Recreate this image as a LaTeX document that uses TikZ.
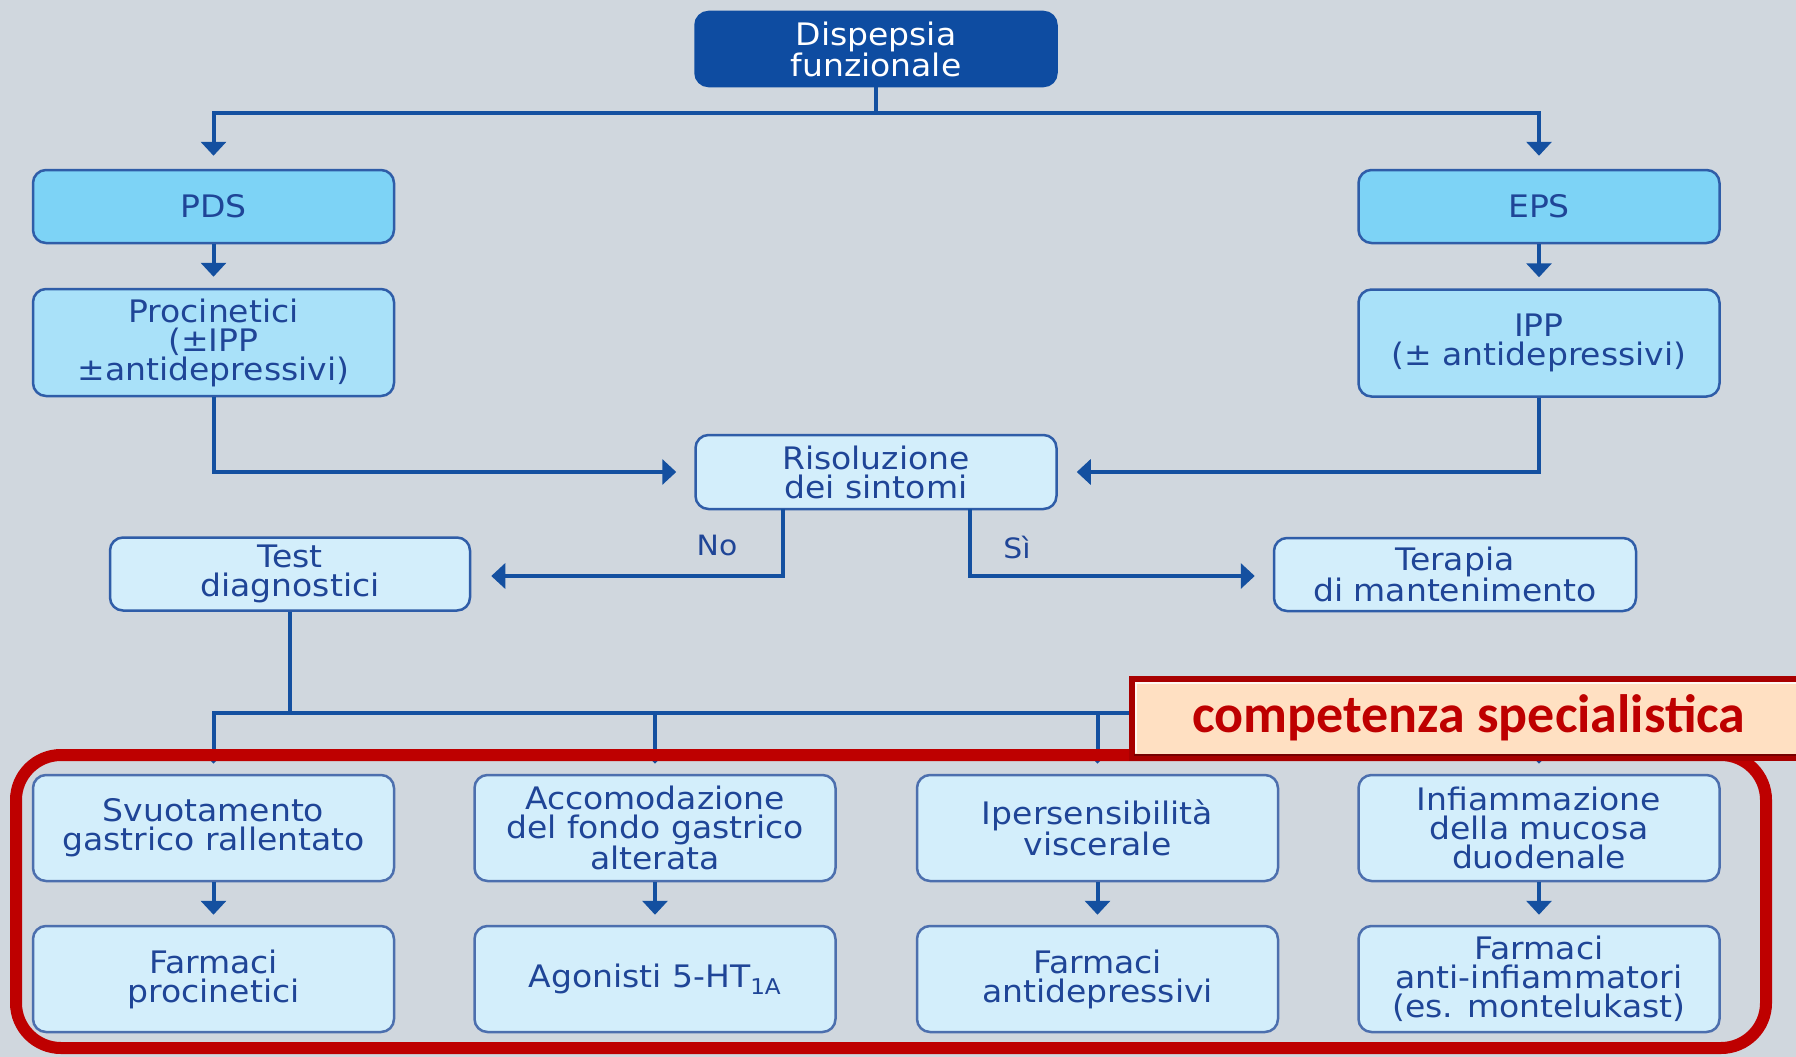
\documentclass[tikz,border=0pt]{standalone}
\usepackage{fontspec}
\setmainfont{DejaVu Sans}[FakeStretch=1.065]
\newfontfamily\calibri{Carlito}
\usetikzlibrary{arrows.meta,calc}
\definecolor{bg}{HTML}{D0D7DE}
\definecolor{dblue}{HTML}{0E4CA1}
\definecolor{lineblue}{HTML}{1450A0}
\definecolor{txtblue}{HTML}{1F4597}
\definecolor{midfill}{HTML}{7DD3F6}
\definecolor{ltfill}{HTML}{A9E1F9}
\definecolor{palefill}{HTML}{D3EEFB}
\definecolor{boxborder}{HTML}{2F5DA8}
\definecolor{softborder}{HTML}{4C6FAE}
\definecolor{redf}{HTML}{BE0000}
\definecolor{darkred}{HTML}{A80000}
\definecolor{peach}{HTML}{FFE0C2}
\begin{document}
\begin{tikzpicture}[x=1pt,y=-1pt,
  box/.style={draw=boxborder, line width=2.5pt, rounded corners=13pt,
    minimum width=361pt, inner sep=0pt, align=center, text=txtblue,
    font=\fontsize{31}{29}\selectfont},
  topbox/.style={box, fill=dblue, draw=dblue, text=white, minimum height=74pt},
  midbox/.style={box, fill=midfill, minimum height=73pt},
  ltbox/.style={box, fill=ltfill, minimum height=107pt},
  palebox/.style={box, fill=palefill, minimum height=73pt},
  lowbox/.style={box, fill=palefill, draw=softborder, minimum height=106pt},
  conn/.style={draw=lineblue, line width=4pt},
  arr/.style={conn, -{Triangle[width=25pt,length=14pt]}},
  lbl/.style={text=txtblue, font=\fontsize{28}{28}\selectfont, inner sep=0pt},
  frame/.style={draw=redf, line width=12pt, rounded corners=45pt,
    minimum width=1750pt, minimum height=293pt, inner sep=0pt},
]
\useasboundingbox (0,0) rectangle (1796,1057);
\fill[bg] (0,0) rectangle (1796,1057);

% nodes
\node[topbox] (top) at (876,49) {Dispepsia\\funzionale};
\node[midbox] (pds) at (213.5,206.5) {PDS};
\node[midbox] (eps) at (1539,206.5) {EPS};
\node[ltbox] (proc) at (213.5,342.5) {Procinetici\\(±IPP\\±antidepressivi)};
\node[ltbox] (ipp) at (1539,343) {IPP\\(± antidepressivi)};
\node[palebox,minimum height=74pt] (ris) at (876,472) {Risoluzione\\dei sintomi};
\node[palebox,minimum width=360pt] (test) at (290,574) {Test\\diagnostici};
\node[palebox,minimum width=362pt] (ter) at (1455,574.5) {Terapia\\di mantenimento};

\node[lowbox] (c1) at (213.5,828) {Svuotamento\\gastrico rallentato};
\node[lowbox] (c2) at (655,828) {Accomodazione\\del fondo gastrico\\alterata};
\node[lowbox] (c3) at (1097.5,828) {Ipersensibilità\\viscerale};
\node[lowbox] (c4) at (1539,828) {Infiammazione\\della mucosa\\duodenale};

\node[lowbox] (d1) at (213.5,979) {Farmaci\\procinetici};
\node[lowbox] (d2) at (655,979) {Agonisti 5-HT\textsubscript{1A}};
\node[lowbox] (d3) at (1097.5,979) {Farmaci\\antidepressivi};
\node[lowbox] (d4) at (1539,979) {Farmaci\\anti-infiammatori\\(es. montelukast)};

% connectors
\coordinate (j1) at (876,113);
\draw[conn] (top.south) -- (j1);
\draw[arr, shorten >=13pt] (j1) -| (pds.north);
\draw[arr, shorten >=13pt] (j1) -| (eps.north);
\draw[arr, shorten >=11pt] (pds) -- (proc);
\draw[arr, shorten >=11pt] (eps) -- (ipp);
\draw[arr, shorten >=18pt] (proc.south) |- (ris.west);
\draw[arr, shorten >=19pt] (ipp.south) |- (ris.east);
\coordinate (nos) at (783,509);
\coordinate (sis) at (970,509);
\draw[arr, shorten >=20pt] (nos) |- ($(test.east)+(0,2)$);
\draw[arr, shorten >=18pt] (sis) |- ($(ter.west)+(0,1.5)$);
\node[lbl] (no) at (717,545) {No};
\node[lbl] (si) at (1017,547) {Sì};

\coordinate (j2) at (290,713);
\draw[conn] (test.south) -- (j2);
\foreach \b in {c1,c2,c3,c4}{
  \draw[arr, shorten >=10pt] (j2) -| (\b.north);
}
\draw[arr, shorten >=10pt] (c1) -- (d1);
\draw[arr, shorten >=10pt] (c2) -- (d2);
\draw[arr, shorten >=10pt] (c3) -- (d3);
\draw[arr, shorten >=10pt] (c4) -- (d4);

% red frame
\node[frame] (spec) at (891,901.5) {};

% callout
\fill[darkred] (1129,676) rectangle (1840,761);
\fill[peach] (1135,682) rectangle (1840,754);
\draw[white, line width=2pt, opacity=0.8] (1136,753) -- (1136,683) -- (1840,683);
\draw[darkred!70!black, line width=2pt] (1134,755) -- (1840,755);
\node[text=redf, font=\calibri\bfseries\fontsize{54}{54}\selectfont, inner sep=0pt]
  (comp) at (1469,718) {competenza specialistica};
\end{tikzpicture}
\end{document}
